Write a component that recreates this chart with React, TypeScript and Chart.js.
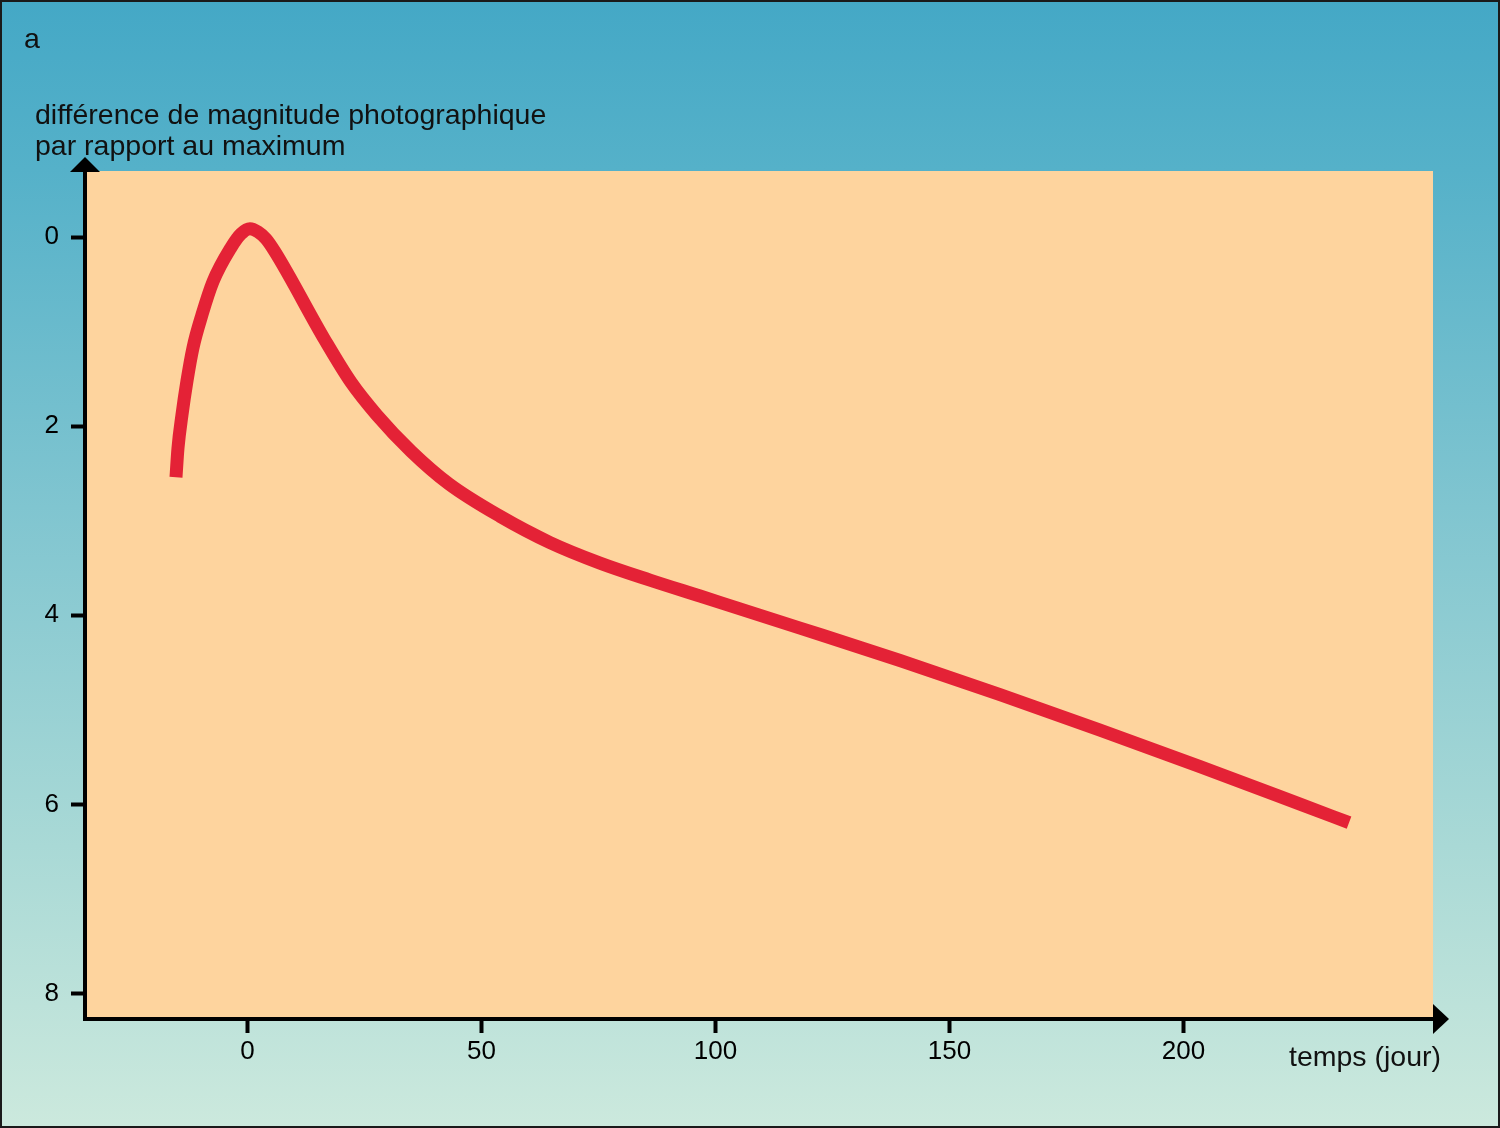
import React, { useEffect, useRef } from "react";
import { Chart, registerables } from "chart.js";

Chart.register(...registerables);

// ---- data ----
const days = [
  -15.28, -14.85, -14.0, -12.93, -11.65, -9.72, -7.37, -3.53, -1.39, 0.53,
  2.24, 3.95, 5.88, 16.56, 22.12, 27.67, 34.94, 43.06, 53.95, 64.64, 75.32,
  86.0, 96.69, 118.06, 139.42, 160.79, 182.16, 203.53, 224.89, 235.36,
];
const magnitudes = [
  2.54, 2.23, 1.88, 1.52, 1.17, 0.82, 0.47, 0.11, -0.035, -0.09, -0.056,
  0.018, 0.156, 1.09, 1.535, 1.883, 2.264, 2.611, 2.952, 3.23, 3.447, 3.627,
  3.796, 4.135, 4.478, 4.838, 5.214, 5.6, 5.997, 6.193,
];
const xTicks = [0, 50, 100, 150, 200];
const yTicks = [0, 2, 4, 6, 8];
const yTitleLines = [
  "différence de magnitude photographique",
  "par rapport au maximum",
];
const xTitle = "temps (jour)";
const panelLabel = "a";

const FONT = '"Liberation Sans", Arial, Helvetica, sans-serif';

export default function App() {
  const ref = useRef<HTMLCanvasElement | null>(null);

  useEffect(() => {
    document.body.style.margin = "0";
    const canvas = ref.current;
    if (!canvas) return;

    const decor = {
      id: "decor",
      beforeDraw(chart: any) {
        const { ctx, chartArea: a, width, height } = chart;
        ctx.save();
        const g = ctx.createLinearGradient(0, 0, 0, height);
        g.addColorStop(0, "#44a8c6");
        g.addColorStop(0.15, "#55b1c9");
        g.addColorStop(0.45, "#80c5d0");
        g.addColorStop(0.75, "#a9d9d6");
        g.addColorStop(1, "#cce9dd");
        ctx.fillStyle = g;
        ctx.fillRect(0, 0, width, height);
        ctx.fillStyle = "#fed49e";
        ctx.fillRect(a.left, a.top, a.right - a.left, a.bottom - a.top);
        ctx.restore();
      },
      afterDraw(chart: any) {
        const { ctx, chartArea: a, width, height } = chart;
        ctx.save();
        // axes
        ctx.strokeStyle = "#000";
        ctx.fillStyle = "#000";
        ctx.lineWidth = 4;
        ctx.beginPath();
        ctx.moveTo(a.left, a.bottom + 2);
        ctx.lineTo(a.left, a.top + 1);
        ctx.stroke();
        ctx.beginPath();
        ctx.moveTo(a.left - 2, a.bottom);
        ctx.lineTo(a.right, a.bottom);
        ctx.stroke();
        // arrows
        ctx.beginPath();
        ctx.moveTo(a.left - 15, a.top + 1);
        ctx.lineTo(a.left + 15, a.top + 1);
        ctx.lineTo(a.left, a.top - 14);
        ctx.closePath();
        ctx.fill();
        ctx.beginPath();
        ctx.moveTo(a.right, a.bottom - 15);
        ctx.lineTo(a.right, a.bottom + 15);
        ctx.lineTo(a.right + 16, a.bottom);
        ctx.closePath();
        ctx.fill();
        // texts
        ctx.fillStyle = "#111";
        ctx.font = `28.5px ${FONT}`;
        ctx.textBaseline = "alphabetic";
        ctx.textAlign = "left";
        ctx.fillText(panelLabel, 24, 48);
        ctx.fillText(yTitleLines[0], 35, 123.5);
        ctx.fillText(yTitleLines[1], 35, 154.5);
        ctx.textAlign = "right";
        ctx.fillText(xTitle, 1441, 1066);
        // frame
        ctx.strokeStyle = "#1a1a1a";
        ctx.lineWidth = 2;
        ctx.strokeRect(1, 1, width - 2, height - 2);
        ctx.restore();
      },
    };

    const chart = new Chart(canvas, {
      type: "line",
      data: {
        datasets: [
          {
            data: days.map((d, i) => ({ x: d, y: magnitudes[i] })),
            borderColor: "#e42236",
            borderWidth: 13,
            borderCapStyle: "butt",
            borderJoinStyle: "round",
            cubicInterpolationMode: "monotone",
            pointRadius: 0,
            fill: false,
          },
        ],
      },
      options: {
        responsive: false,
        devicePixelRatio: 1,
        animation: false,
        layout: { padding: { left: 0, top: 171, right: 67, bottom: 0 } },
        plugins: {
          legend: { display: false },
          tooltip: { enabled: false },
          title: { display: false },
        },
        scales: {
          x: {
            type: "linear",
            min: -34.72,
            max: 253.3,
            afterBuildTicks: (s: any) => {
              s.ticks = xTicks.map((v) => ({ value: v }));
            },
            afterFit: (s: any) => {
              s.height = 109;
            },
            grid: {
              drawOnChartArea: false,
              drawTicks: true,
              tickLength: 14,
              tickWidth: 4,
              tickColor: "#000",
              color: "#000",
            },
            border: { display: false },
            ticks: {
              color: "#000",
              font: { size: 26, family: FONT },
              padding: 3,
              maxRotation: 0,
              autoSkip: false,
            },
          },
          y: {
            type: "linear",
            reverse: true,
            min: -0.7,
            max: 8.27,
            afterBuildTicks: (s: any) => {
              s.ticks = yTicks.map((v) => ({ value: v }));
            },
            afterFit: (s: any) => {
              s.width = 85;
            },
            grid: {
              drawOnChartArea: false,
              drawTicks: true,
              tickLength: 14,
              tickWidth: 4,
              tickColor: "#000",
              color: "#000",
            },
            border: { display: false },
            ticks: {
              color: "#000",
              font: { size: 26, family: FONT },
              padding: 12,
              autoSkip: false,
            },
          },
        },
      },
      plugins: [decor],
    } as any);

    return () => chart.destroy();
  }, []);

  return (
    <canvas
      ref={ref}
      width={1500}
      height={1128}
      style={{ display: "block", width: 1500, height: 1128 }}
    />
  );
}
